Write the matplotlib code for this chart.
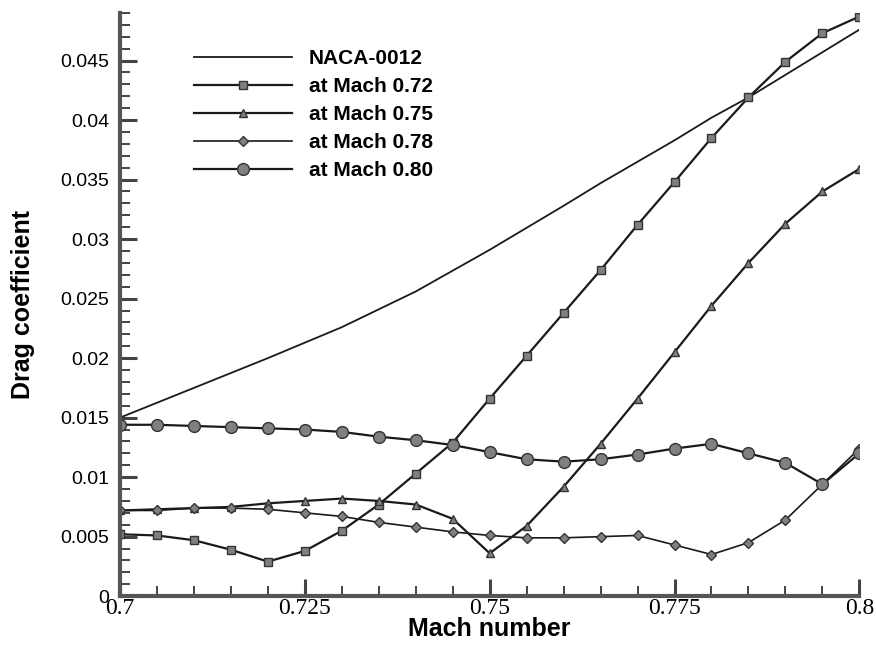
import matplotlib
matplotlib.use("Agg")
import matplotlib.pyplot as plt
from matplotlib.ticker import MultipleLocator, FixedLocator, FixedFormatter

# Mach sweep for each airfoil (markers every 0.005)
mach = [0.700, 0.705, 0.710, 0.715, 0.720, 0.725, 0.730, 0.735, 0.740, 0.745,
        0.750, 0.755, 0.760, 0.765, 0.770, 0.775, 0.780, 0.785, 0.790, 0.795, 0.800]

# baseline airfoil (drawn without markers)
naca_mach = [0.700, 0.710, 0.720, 0.730, 0.740, 0.750, 0.760, 0.765, 0.770,
             0.775, 0.780, 0.785, 0.790, 0.800]
naca_cd = [0.0150, 0.0175, 0.0200, 0.0226, 0.0256, 0.0291, 0.0328, 0.0347, 0.0365,
           0.0383, 0.0402, 0.0419, 0.0438, 0.0476]

cd_072 = [0.0052, 0.0051, 0.0047, 0.0039, 0.0029, 0.0038, 0.0055, 0.0077, 0.0103, 0.0129,
          0.0166, 0.0202, 0.0238, 0.0274, 0.0312, 0.0348, 0.0385, 0.0419, 0.0449, 0.0473, 0.0487]
cd_075 = [0.0072, 0.0073, 0.0074, 0.0075, 0.0078, 0.0080, 0.0082, 0.0080, 0.0077, 0.0065,
          0.0036, 0.0059, 0.0092, 0.0128, 0.0166, 0.0205, 0.0244, 0.0280, 0.0313, 0.0340, 0.0359]
cd_078 = [0.0072, 0.0072, 0.0074, 0.0074, 0.0073, 0.0070, 0.0067, 0.0062, 0.0058, 0.0054,
          0.0051, 0.0049, 0.0049, 0.0050, 0.0051, 0.0043, 0.0035, 0.0045, 0.0064, 0.0094, 0.0124]
cd_080 = [0.0144, 0.0144, 0.0143, 0.0142, 0.0141, 0.0140, 0.0138, 0.0134, 0.0131, 0.0127,
          0.0121, 0.0115, 0.0113, 0.0115, 0.0119, 0.0124, 0.0128, 0.0120, 0.0112, 0.0094, 0.0120]

x_ticks = [0.7, 0.725, 0.75, 0.775, 0.8]
x_tick_labels = ["0.7", "0.725", "0.75", "0.775", "0.8"]
y_ticks = [0, 0.005, 0.01, 0.015, 0.02, 0.025, 0.03, 0.035, 0.04, 0.045]
y_tick_labels = ["0", "0.005", "0.01", "0.015", "0.02", "0.025", "0.03", "0.035", "0.04", "0.045"]

fig = plt.figure(figsize=(8.76, 6.48), dpi=100)
ax = fig.add_axes([0.137, 0.080, 0.844, 0.900])

line_col = "#1a1a1a"
face_col = "#808080"
mk = dict(markerfacecolor=face_col, markeredgecolor="#333333", markeredgewidth=1.0)

ax.plot(naca_mach, naca_cd, "-", color=line_col, linewidth=1.3, label="NACA-0012")
ax.plot(mach, cd_072, "-", color=line_col, linewidth=1.6, marker="s", markersize=6,
        label="at Mach 0.72", **mk)
ax.plot(mach, cd_075, "-", color=line_col, linewidth=1.6, marker="^", markersize=6,
        label="at Mach 0.75", **mk)
ax.plot(mach, cd_078, "-", color=line_col, linewidth=1.2, marker="D", markersize=5.5,
        label="at Mach 0.78", **mk)
ax.plot(mach, cd_080, "-", color=line_col, linewidth=1.6, marker="o", markersize=8.5,
        label="at Mach 0.80", **mk)

ax.set_xlim(0.7, 0.8)
ax.set_ylim(0, 0.049)

ax.xaxis.set_major_locator(FixedLocator(x_ticks))
ax.xaxis.set_major_formatter(FixedFormatter(x_tick_labels))
ax.xaxis.set_minor_locator(MultipleLocator(0.005))
ax.yaxis.set_major_locator(FixedLocator(y_ticks))
ax.yaxis.set_major_formatter(FixedFormatter(y_tick_labels))
ax.yaxis.set_minor_locator(MultipleLocator(0.001))

ax.tick_params(axis="both", which="major", direction="in", length=12, width=2.2, color="#444444")
ax.tick_params(axis="both", which="minor", direction="in", length=7, width=1.4, color="#444444")
ax.tick_params(axis="x", which="major", pad=1)
ax.tick_params(axis="y", which="major", pad=8)

for lab in ax.get_xticklabels():
    lab.set_fontfamily("Liberation Serif")
    lab.set_fontsize(17)
for lab in ax.get_yticklabels():
    lab.set_fontfamily("Liberation Sans")
    lab.set_fontsize(14)

ax.spines["top"].set_visible(False)
ax.spines["right"].set_visible(False)
ax.spines["left"].set_linewidth(3)
ax.spines["bottom"].set_linewidth(3)
ax.spines["left"].set_color("#555555")
ax.spines["bottom"].set_color("#555555")

ax.set_xlabel("Mach number", fontsize=18, fontweight="bold", family="Liberation Sans", labelpad=-1)
ax.set_ylabel("Drag coefficient", fontsize=18, fontweight="bold", family="Liberation Sans", labelpad=18)

leg = ax.legend(loc="upper left", bbox_to_anchor=(0.075, 0.97), frameon=False,
                handlelength=4.7, handletextpad=0.8, labelspacing=0.43,
                prop={"family": "Liberation Sans", "weight": "bold", "size": 15})

fig.savefig("out.png", dpi=100)
